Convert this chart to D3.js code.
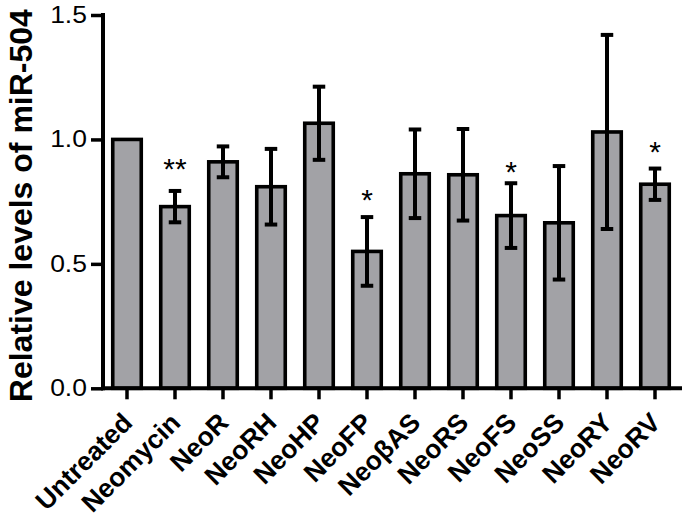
<!DOCTYPE html>
<html>
<head>
<meta charset="utf-8">
<script src="https://cdn.jsdelivr.net/npm/d3@7"></script>
<style>
  html, body { margin: 0; padding: 0; background: #fff; }
  svg { display: block; }
</style>
</head>
<body>
<svg id="chart" width="685" height="519"></svg>
<script>
// ---- data ----
const categories = ["Untreated", "Neomycin", "NeoR", "NeoRH", "NeoHP", "NeoFP",
                    "Neo\u03B2AS", "NeoRS", "NeoFS", "NeoSS", "NeoRY", "NeoRV"];
const means  = [1.00, 0.73, 0.91, 0.81, 1.065, 0.55, 0.862, 0.858, 0.694, 0.665, 1.03, 0.82];
const errors = [0.00, 0.063, 0.062, 0.152, 0.147, 0.138, 0.178, 0.184, 0.13, 0.228, 0.39, 0.063];
const sigLabels = ["", "**", "", "", "", "*", "", "", "*", "", "", "*"];
const sigLevels = [0, 0.91, 0, 0, 0, 0.786, 0, 0, 0.898, 0, 0, 0.978];
const yTicks = [0, 0.5, 1.0, 1.5];
const yTitle = "Relative levels of miR-504";

// ---- layout ----
const svg = d3.select("#chart");
const axisX = 103;
const x = d3.scaleBand().domain(categories).range([103, 679]).paddingInner(0.406).paddingOuter(0.203);
const y = d3.scaleLinear().domain([0, 1.5]).range([388.3, 15]);
const FONT = "'Liberation Sans', Arial, Helvetica, sans-serif";
const barFill = "#a2a2a6";

svg.append("rect").attr("width", 685).attr("height", 519).attr("fill", "#fff");

// bars
svg.append("g").selectAll("rect").data(categories).join("rect")
  .attr("x", d => x(d))
  .attr("y", (d, i) => y(means[i]))
  .attr("width", x.bandwidth())
  .attr("height", (d, i) => y(0) - y(means[i]))
  .attr("fill", barFill)
  .attr("stroke", "#000")
  .attr("stroke-width", 3.6);

// error bars
const capW = 12.5;
const eg = svg.append("g").attr("stroke", "#000").attr("stroke-width", 4);
categories.forEach((c, i) => {
  if (!errors[i]) return;
  const cx = x(c) + x.bandwidth() / 2;
  const yt = y(means[i] + errors[i]), yb = y(means[i] - errors[i]);
  eg.append("line").attr("x1", cx).attr("x2", cx).attr("y1", yt).attr("y2", yb);
  eg.append("line").attr("x1", cx - capW / 2).attr("x2", cx + capW / 2).attr("y1", yt).attr("y2", yt);
  eg.append("line").attr("x1", cx - capW / 2).attr("x2", cx + capW / 2).attr("y1", yb).attr("y2", yb);
});

// significance marks
svg.append("g").selectAll("text").data(categories).join("text")
  .attr("x", d => x(d) + x.bandwidth() / 2)
  .attr("y", (d, i) => y(sigLevels[i]) + 17)
  .attr("text-anchor", "middle")
  .attr("font-family", FONT)
  .attr("font-size", 30)
  .attr("fill", "#000")
  .text((d, i) => sigLabels[i]);

// y axis
const yAxis = svg.append("g").attr("transform", `translate(${axisX},0)`)
  .call(d3.axisLeft(y).tickValues(yTicks).tickFormat(d3.format(".1f")).tickSize(12).tickSizeOuter(0).tickPadding(2));
yAxis.select(".domain").attr("stroke-width", 4).attr("d", `M0,${y(0) + 2}V${y(1.5) - 2}`);
yAxis.selectAll(".tick line").attr("stroke-width", 3.5);
yAxis.selectAll(".tick text")
  .attr("font-family", FONT).attr("font-size", 23).attr("fill", "#000")
  .attr("transform", "scale(1.15,1)");

// x axis
const xAxis = svg.append("g").attr("transform", `translate(0,${y(0)})`)
  .call(d3.axisBottom(x).tickSize(11).tickSizeOuter(0));
xAxis.select(".domain").attr("stroke-width", 4).attr("d", `M${axisX - 2},0H${x.range()[1] + 3}`);
xAxis.selectAll(".tick line").attr("stroke-width", 3.5);
xAxis.selectAll(".tick text")
  .attr("font-family", FONT).attr("font-size", 26.5).attr("font-weight", "bold").attr("fill", "#000")
  .attr("text-anchor", "end")
  .attr("y", 0).attr("dy", 0)
  .attr("transform", "translate(7,36) rotate(-45)");

// y title
svg.append("text")
  .attr("transform", `translate(32,${(y(0) + y(1.5)) / 2 + 4}) rotate(-90)`)
  .attr("text-anchor", "middle")
  .attr("font-family", FONT).attr("font-size", 32).attr("font-weight", "bold")
  .attr("fill", "#000")
  .text(yTitle);
</script>
</body>
</html>
